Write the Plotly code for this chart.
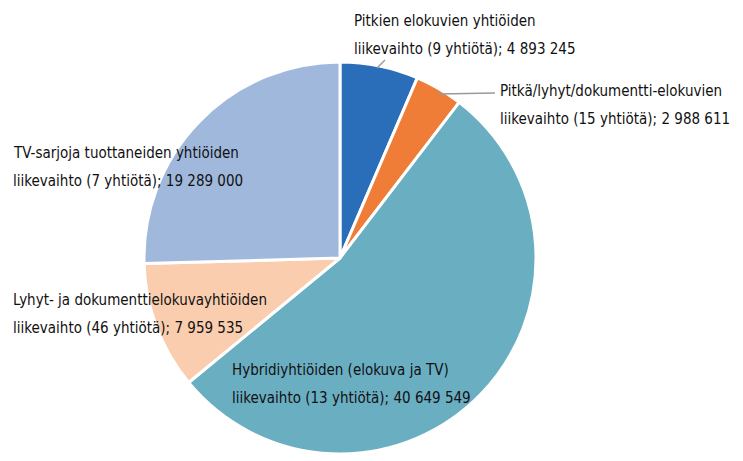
import plotly.graph_objects as go

categories = [
    "Pitkien elokuvien yhtiöiden<br>liikevaihto (9 yhtiötä); 4 893 245",
    "Pitkä/lyhyt/dokumentti-elokuvien<br>liikevaihto (15 yhtiötä); 2 988 611",
    "Hybridiyhtiöiden (elokuva ja TV)<br>liikevaihto (13 yhtiötä); 40 649 549",
    "Lyhyt- ja dokumenttielokuvayhtiöiden<br>liikevaihto (46 yhtiötä); 7 959 535",
    "TV-sarjoja tuottaneiden yhtiöiden<br>liikevaihto (7 yhtiötä); 19 289 000",
]
values = [4893245, 2988611, 40649549, 7959535, 19289000]
colors = ["#2a6db8", "#ef7d37", "#6aaec2", "#f9cdae", "#9fb8dc"]

W, H = 743, 461
OFF = 8  # page body margin offset
FONT = "DejaVu Sans Condensed, sans-serif"

cx, cy, r = 340 - OFF, 258 - OFF, 196
fig = go.Figure(go.Pie(
    labels=categories, values=values, sort=False, direction="clockwise", rotation=0,
    marker=dict(colors=colors, line=dict(color="white", width=3)),
    textinfo="none", hoverinfo="label+value", showlegend=False,
    domain=dict(x=[(cx - r) / W, (cx + r) / W], y=[1 - (cy + r) / H, 1 - (cy - r) / H]),
))

# label positions: pixel left x, pixel center y of first line; line gap
label_pos = [(352, 21), (498, 91), (230, 370), (11, 300), (11, 153)]
line_gap = 28
for text, (px, py) in zip(categories, label_pos):
    for i, line in enumerate(text.split("<br>")):
        fig.add_annotation(
            x=(px - OFF) / W, y=1 - (py - OFF + i * line_gap) / H, xref="paper", yref="paper",
            text=line, showarrow=False, xanchor="left", yanchor="middle", align="left",
            font=dict(family=FONT, size=15, color="#111111"),
        )

leaders = [((377, 68), (385, 60)), ((438, 94), (495, 93))]
for (x0, y0), (x1, y1) in leaders:
    fig.add_shape(type="line", xref="paper", yref="paper",
                  x0=(x0 - OFF) / W, y0=1 - (y0 - OFF) / H,
                  x1=(x1 - OFF) / W, y1=1 - (y1 - OFF) / H,
                  line=dict(color="#9a9a9a", width=1.5))

fig.update_layout(
    width=W, height=H, margin=dict(l=0, r=0, t=0, b=0),
    paper_bgcolor="white", plot_bgcolor="white",
)
fig.write_html("out.html")
